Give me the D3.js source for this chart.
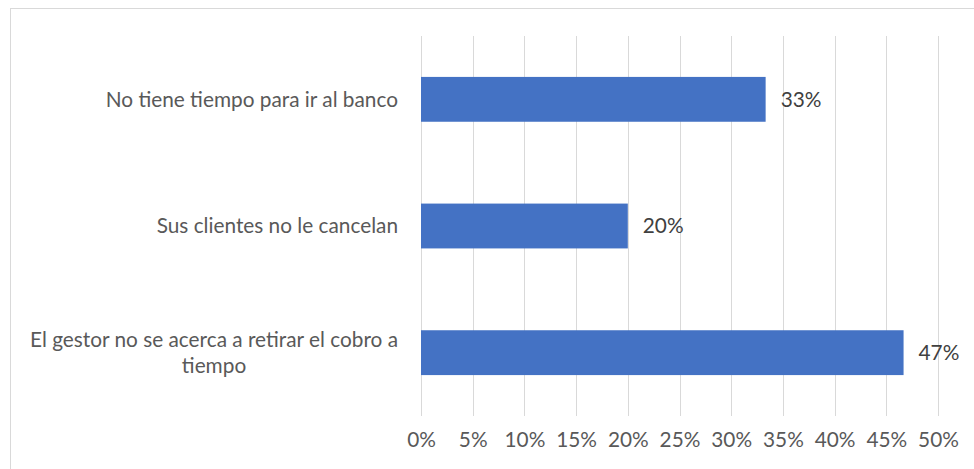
<!DOCTYPE html>
<html>
<head>
<meta charset="utf-8">
<script src="https://cdn.jsdelivr.net/npm/d3@7"></script>
<style>
  html, body { margin: 0; padding: 0; background: #fff; }
  svg { display: block; }
  text { font-family: Lato, "Open Sans", sans-serif; }
</style>
</head>
<body>
<svg id="chart" width="974" height="469"></svg>
<script>
// Reasons for late payment, share of respondents
const categories = [
  "No tiene tiempo para ir al banco",
  "Sus clientes no le cancelan",
  "El gestor no se acerca a retirar el cobro a tiempo"
];
const values = [0.3333, 0.2000, 0.4667];
const valueLabels = ["33%", "20%", "47%"];
const tickValues = [0, 0.05, 0.10, 0.15, 0.20, 0.25, 0.30, 0.35, 0.40, 0.45, 0.50];

const width = 974, height = 469;
const margin = { top: 36, right: 36, bottom: 53, left: 421 };
const fontSize = 20.8;
const svg = d3.select("#chart");

// Chart frame
svg.append("rect")
  .attr("x", 10.5).attr("y", 8.5)
  .attr("width", width + 20).attr("height", height + 20)
  .attr("fill", "none").attr("stroke", "#d9d9d9").attr("stroke-width", 1);

const x = d3.scaleLinear().domain([0, 0.5]).range([margin.left, width - margin.right]);
const y = d3.scaleBand().domain(categories)
  .range([margin.top, height - margin.bottom])
  .paddingInner(0.646).paddingOuter(0.323);

// Vertical gridlines
svg.append("g").selectAll("line").data(tickValues).join("line")
  .attr("x1", d => Math.round(x(d)) + 0.5).attr("x2", d => Math.round(x(d)) + 0.5)
  .attr("y1", margin.top).attr("y2", height - margin.bottom)
  .attr("stroke", "#d9d9d9").attr("stroke-width", 1);

// Bottom axis labels
const xAxis = d3.axisBottom(x).tickValues(tickValues).tickFormat(d3.format(".0%")).tickSize(0).tickPadding(0);
const gx = svg.append("g").attr("transform", `translate(0, ${height - margin.bottom})`).call(xAxis);
gx.select(".domain").remove();
gx.selectAll("text")
  .attr("y", 24).attr("dy", "0.35em")
  .attr("fill", "#595959").attr("font-size", fontSize)
  .style("font-family", "Lato, 'Open Sans', sans-serif");

// Bars
svg.append("g").selectAll("rect").data(categories).join("rect")
  .attr("x", x(0))
  .attr("y", d => y(d))
  .attr("width", (d, i) => x(values[i]) - x(0))
  .attr("height", y.bandwidth())
  .attr("fill", "#4472c4");

// Value labels
svg.append("g").selectAll("text").data(categories).join("text")
  .attr("x", (d, i) => x(values[i]) + 15)
  .attr("y", d => y(d) + y.bandwidth() / 2)
  .attr("dy", "0.35em")
  .attr("fill", "#404040").attr("font-size", fontSize)
  .text((d, i) => valueLabels[i]);

// Category labels, wrapped and centred as a right-aligned block
const labelRight = 398, maxLabelWidth = 385, lineHeight = 26;
const gy = svg.append("g");
categories.forEach(cat => {
  const t = gy.append("text").attr("fill", "#595959").attr("font-size", fontSize);
  const words = cat.split(" ");
  const lines = [];
  let cur = [];
  const probe = gy.append("text").attr("font-size", fontSize);
  words.forEach(w => {
    const trial = cur.concat([w]).join(" ");
    probe.text(trial);
    if (probe.node().getComputedTextLength() > maxLabelWidth && cur.length) {
      lines.push(cur.join(" "));
      cur = [w];
    } else {
      cur.push(w);
    }
  });
  lines.push(cur.join(" "));
  const widths = lines.map(l => { probe.text(l); return probe.node().getComputedTextLength(); });
  probe.remove();
  const blockW = d3.max(widths);
  const cx = labelRight - blockW / 2;
  const cy = y(cat) + y.bandwidth() / 2;
  const y0 = cy - (lines.length - 1) * lineHeight / 2;
  t.attr("text-anchor", "middle");
  lines.forEach((l, i) => {
    t.append("tspan").attr("x", cx).attr("y", y0 + i * lineHeight).attr("dy", "0.35em").text(l);
  });
});
</script>
</body>
</html>
